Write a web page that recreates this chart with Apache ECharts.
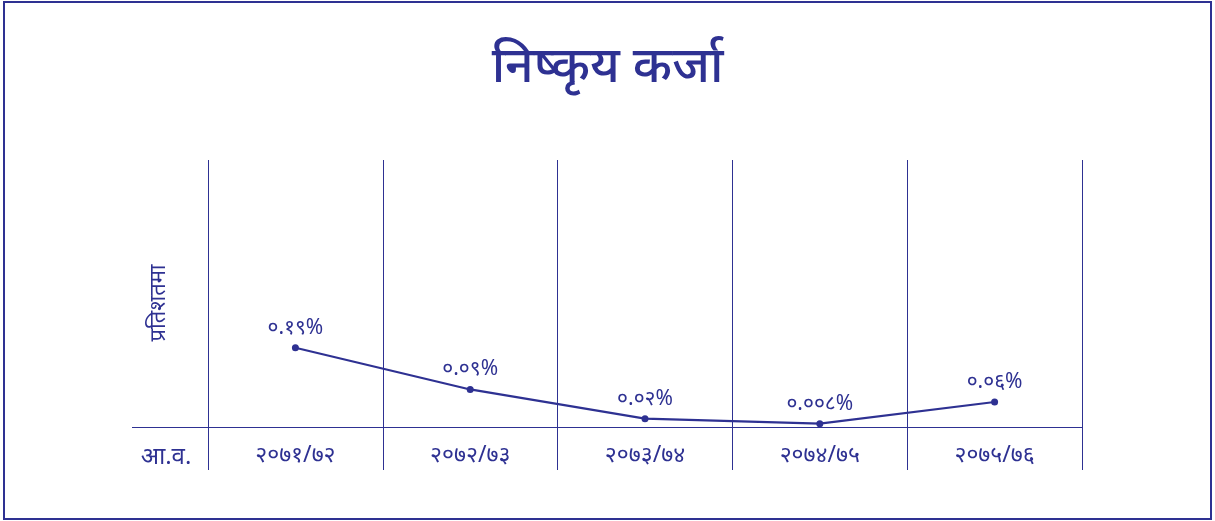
<!DOCTYPE html>
<html>
<head>
<meta charset="utf-8">
<script src="https://cdn.jsdelivr.net/npm/echarts@6/dist/echarts.min.js"></script>
<style>
html,body{margin:0;padding:0;background:#fff;}
#c{width:1215px;height:521px;}
</style>
</head>
<body>
<div id="c"></div>
<script>
var titleText = 'निष्कृय कर्जा';
var yName = 'प्रतिशतमा';
var xName = 'आ.व.';
var categories = ['२०७१/७२', '२०७२/७३', '२०७३/७४', '२०७४/७५', '२०७५/७६'];
var values = [0.19, 0.09, 0.02, 0.008, 0.06];
var valueLabels = ['०.१९%', '०.०९%', '०.०२%', '०.००८%', '०.०६%'];

var blue = '#2e3192';
var font = 'Noto Sans, sans-serif';
var chart = echarts.init(document.getElementById('c'));
chart.setOption({
  backgroundColor: '#fff',
  animation: false,
  title: {
    text: titleText, left: 'center', top: 38,
    textStyle: { color: blue, fontSize: 50, fontWeight: 500, fontFamily: font }
  },
  grid: { left: 208, right: 133, top: 160, bottom: 94 },
  xAxis: {
    type: 'category', data: categories, boundaryGap: true,
    axisLine: { show: true, lineStyle: { color: blue, width: 1 } },
    axisTick: { show: true, length: 43, lineStyle: { color: blue, width: 1 } },
    splitLine: { show: true, lineStyle: { color: blue, width: 1 } },
    axisLabel: { color: blue, fontSize: 23, margin: 17, fontFamily: font }
  },
  yAxis: {
    type: 'value', min: 0, max: 0.64,
    axisLine: { show: false }, axisTick: { show: false },
    axisLabel: { show: false }, splitLine: { show: false }
  },
  series: [{
    type: 'line', data: values,
    lineStyle: { color: blue, width: 2.2 },
    itemStyle: { color: blue },
    symbol: 'circle', symbolSize: 7,
    label: {
      show: true, position: 'top', distance: 6, color: blue, fontSize: 21,
      fontFamily: font,
      formatter: function (p) { return valueLabels[p.dataIndex]; }
    }
  }],
  graphic: [
    { type: 'rect', shape: { x: 4, y: 2, width: 1207, height: 517 }, style: { fill: null, stroke: blue, lineWidth: 2 } },
    { type: 'line', shape: { x1: 132, y1: 427.5, x2: 208, y2: 427.5 }, style: { stroke: blue, lineWidth: 1 } },
    { type: 'text', x: 166, y: 457, style: { text: xName, fill: blue, fontSize: 24, align: 'center', verticalAlign: 'middle', fontFamily: font } },
    { type: 'text', x: 159, y: 303, rotation: Math.PI / 2, style: { text: yName, fill: blue, fontSize: 22, align: 'center', verticalAlign: 'middle', fontFamily: font } }
  ]
});
</script>
</body>
</html>
